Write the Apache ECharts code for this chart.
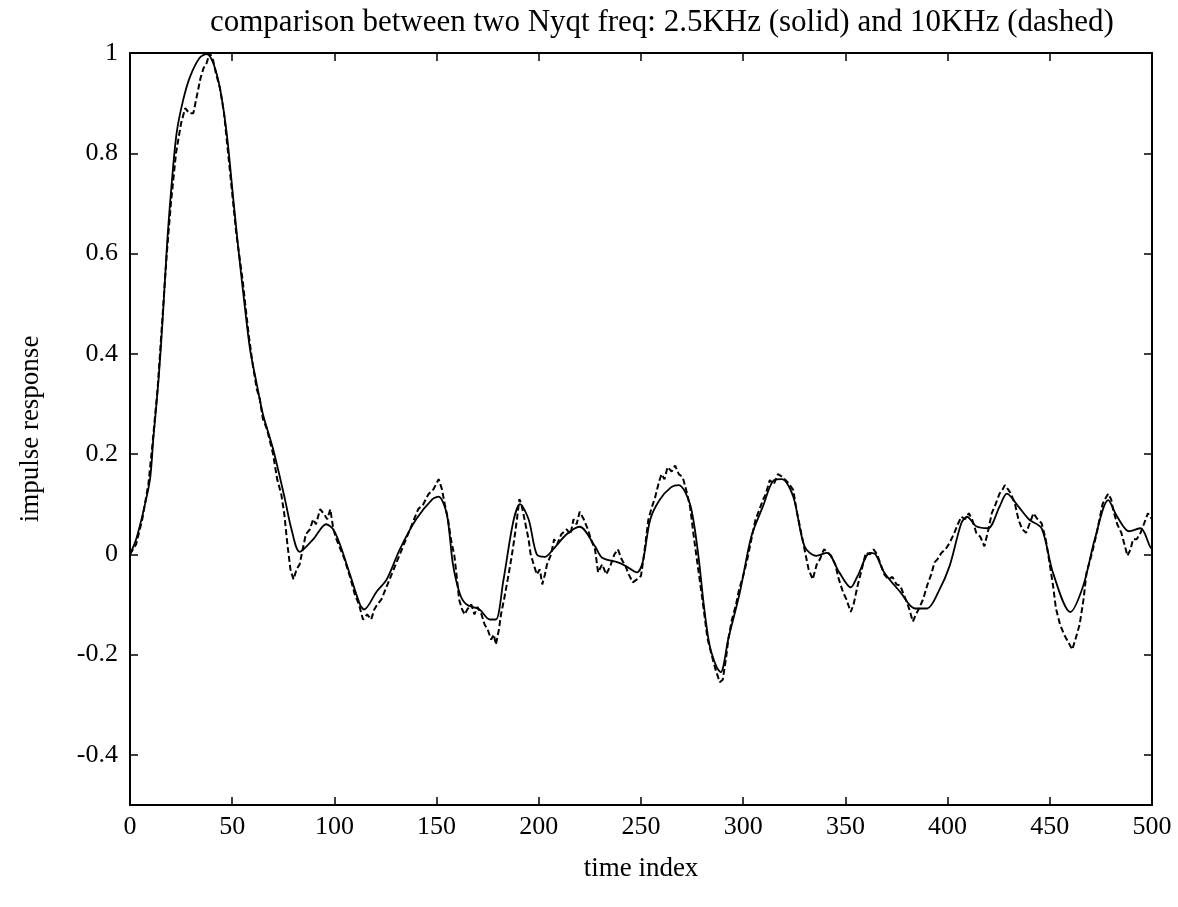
<!DOCTYPE html>
<html>
<head>
<meta charset="utf-8">
<script src="https://cdn.jsdelivr.net/npm/echarts@6/dist/echarts.min.js"></script>
<style>html,body{margin:0;padding:0;background:#fff;}#c{width:1178px;height:907px;}</style>
</head>
<body>
<div id="c"></div>
<script>
var titleText = 'comparison between two Nyqt freq: 2.5KHz (solid) and 10KHz (dashed)';
var xTicks = [0, 50, 100, 150, 200, 250, 300, 350, 400, 450, 500];
var yTicks = [-0.4, -0.2, 0, 0.2, 0.4, 0.6, 0.8, 1];

// solid: 2.5KHz
var solidT = [0,3,6.5,9.8,11.4,14,16,18,20,22.8,26,29.4,34,37.5,40.7,44,47.3,50.5,53,56,58.7,62,65,70,75.8,79,83,89.6,96,99.4,102.7,107.6,112.5,114.5,120.7,125.6,132,140,148,151,155,158,161.5,164.7,171,176,179,182.6,187.5,190.8,195,199,203,207,213.6,220,227.5,231,238.7,242.4,248,250.8,254.5,259,264.8,268.5,274,277.9,280.7,283.5,287,289,292.8,298.4,304,309.6,315,319,324.5,330,335.7,341,347,352.6,356,362,364.7,369,376.8,384,390,395.5,401,406.7,409.5,414,419.8,425.4,429,434.7,440,446,451.5,460,466.4,472,478.6,483,488.8,494.4,499,500];
var solidV = [0,0.03,0.085,0.15,0.23,0.35,0.47,0.61,0.72,0.84,0.906,0.953,0.99,0.998,0.98,0.93,0.84,0.71,0.61,0.5,0.41,0.34,0.28,0.21,0.11,0.05,0.005,0.03,0.06,0.05,0.02,-0.04,-0.1,-0.11,-0.074,-0.05,0.01,0.07,0.11,0.115,0.08,-0.02,-0.08,-0.1,-0.11,-0.13,-0.13,-0.054,0.065,0.1,0.07,0.0,-0.005,0.01,0.04,0.055,0.016,-0.007,-0.016,-0.023,-0.036,-0.016,0.069,0.108,0.134,0.138,0.10,0.003,-0.1,-0.18,-0.225,-0.235,-0.167,-0.075,0.036,0.095,0.148,0.15,0.115,0.016,-0.003,0.003,-0.036,-0.066,-0.043,0.003,0.0,-0.036,-0.075,-0.108,-0.108,-0.075,-0.023,0.062,0.075,0.056,0.052,0.095,0.121,0.095,0.069,0.052,-0.036,-0.115,-0.062,0.03,0.108,0.075,0.046,0.052,0.016,0.01];

// dashed: 10KHz
var dashT = [0,3,6,9,11,13.5,15.5,18,20,22.5,25,27,29,31,33,34.5,36,37.5,39,40.7,42,44,46,48,50,52,55,58,60,62,63.5,65,67,70,72,74,75.5,77,78.5,80,81.5,83,84.5,86,88,89.6,91,93,95,96.5,98,99.5,101,103,105,106.5,108,110,112,114,116,118,119.5,121,123,125,128,130,132,135,138,141,143.5,146,148.5,151,152.6,154,155.6,157,158.7,160,161,162.5,163.7,165,167,168.5,170,172,173.5,175,176.7,178,179,180.5,181.5,183,184.8,186.5,188,189.3,190.5,191.5,192,193.5,195,196,197.5,199,200.5,201.7,203,204,206,207.5,209,211,213.6,215.5,217,218.5,220,222,224,225.5,227.5,229,231,233,235,237,238.7,240.5,242.4,244,246,248,250,251.5,253.6,255,257,258.5,260,261.5,263,265,266.7,268.5,270.4,272,274,276,278,279.7,281,282.5,284.5,286.5,288.5,290,291.5,292.8,294.5,296.5,298,300,302,304,306,308,309.6,311,313,315,317,319,320.8,322.5,324.5,326,328,330,332,334,336,337.5,339.5,341,343,345,346.8,348.8,350.5,352.6,354,356,358,360,362,363.8,365.5,367.5,369,371,373,375,376.8,378.5,380.5,382,383,384.5,386,388,390,392,393.6,395,397,399,401,403,405,406.7,408.5,410.4,412,414,416,418,420,421.6,423.5,425.4,427,428,429.5,431,433,434.7,436.5,438.4,440,442,444,446,448,449.6,451.5,453,455,457,459,461,462.5,464.6,466.5,468,470.5,473,475.8,477,478.6,480,481,483,485,486.5,488,489.5,490.7,492.5,494.4,496,498,500];
var dashV = [0,0.02,0.07,0.14,0.22,0.33,0.45,0.6,0.7,0.8,0.86,0.89,0.88,0.88,0.92,0.95,0.97,0.98,1.0,0.985,0.96,0.93,0.88,0.8,0.72,0.64,0.55,0.44,0.38,0.33,0.31,0.27,0.25,0.2,0.15,0.12,0.08,0.02,-0.03,-0.05,-0.03,-0.02,0.01,0.04,0.05,0.07,0.06,0.09,0.08,0.07,0.09,0.05,0.03,0.01,-0.01,-0.03,-0.05,-0.08,-0.1,-0.13,-0.12,-0.13,-0.11,-0.1,-0.09,-0.07,-0.04,-0.02,0.0,0.03,0.06,0.09,0.1,0.12,0.13,0.15,0.13,0.1,0.07,0.03,-0.003,-0.05,-0.09,-0.11,-0.12,-0.11,-0.1,-0.12,-0.105,-0.12,-0.14,-0.15,-0.17,-0.16,-0.18,-0.15,-0.12,-0.09,-0.05,-0.01,0.03,0.07,0.11,0.1,0.09,0.06,0.03,0.0,-0.02,-0.04,-0.03,-0.06,-0.04,-0.02,0.0,0.03,0.02,0.04,0.05,0.04,0.07,0.06,0.085,0.07,0.05,0.03,0.01,-0.036,-0.02,-0.04,-0.023,0.0,0.01,-0.01,-0.023,-0.04,-0.056,-0.05,-0.043,0.0,0.069,0.09,0.115,0.14,0.16,0.15,0.174,0.165,0.177,0.16,0.154,0.13,0.095,0.03,-0.03,-0.08,-0.12,-0.167,-0.2,-0.23,-0.255,-0.25,-0.21,-0.167,-0.13,-0.1,-0.07,-0.043,-0.01,0.03,0.069,0.09,0.108,0.12,0.148,0.14,0.16,0.155,0.148,0.14,0.128,0.09,0.05,0.01,-0.03,-0.05,-0.02,-0.01,0.01,0.005,-0.003,-0.02,-0.05,-0.075,-0.09,-0.115,-0.1,-0.062,-0.03,0.003,0.0,0.01,0.0,-0.023,-0.04,-0.05,-0.045,-0.06,-0.062,-0.08,-0.1,-0.12,-0.134,-0.12,-0.108,-0.09,-0.062,-0.04,-0.016,-0.01,0.003,0.01,0.023,0.04,0.06,0.075,0.07,0.082,0.07,0.043,0.035,0.016,0.05,0.082,0.1,0.121,0.13,0.138,0.13,0.121,0.1,0.069,0.05,0.043,0.06,0.082,0.07,0.062,0.03,-0.01,-0.06,-0.108,-0.14,-0.16,-0.175,-0.19,-0.17,-0.14,-0.09,-0.036,0.0,0.043,0.1,0.11,0.121,0.11,0.089,0.06,0.043,0.02,-0.003,0.01,0.03,0.03,0.043,0.06,0.082,0.07];

function pairs(t, v) { var out = []; for (var i = 0; i < t.length; i++) out.push([t[i], v[i]]); return out; }

var FONT = 'Liberation Serif';
var chart = echarts.init(document.getElementById('c'), null, { renderer: 'canvas' });
var axisLineOpt = { show: true, onZero: false, lineStyle: { color: '#000', width: 2 } };
var tickIn = { show: true, inside: true, length: 8, lineStyle: { color: '#000', width: 1.5 } };

chart.setOption({
  backgroundColor: '#fff',
  animation: false,
  title: {
    text: titleText,
    left: 205, top: 2,
    textStyle: { fontFamily: FONT, fontSize: 31, fontWeight: 'normal', color: '#000' }
  },
  grid: { left: 130, right: 26, top: 53, bottom: 102, containLabel: false },
  xAxis: [{
    type: 'value', min: 0, max: 500, interval: 50, position: 'bottom',
    name: 'time index', nameLocation: 'middle', nameGap: 50,
    nameTextStyle: { fontFamily: FONT, fontSize: 27, color: '#000' },
    axisLine: axisLineOpt,
    axisTick: tickIn,
    axisLabel: { fontFamily: FONT, fontSize: 26, color: '#000', margin: 9,
      customValues: xTicks, formatter: function (v) { return String(v); } },
    splitLine: { show: false }
  }, {
    type: 'value', min: 0, max: 500, interval: 50, position: 'top',
    axisLine: axisLineOpt,
    axisTick: tickIn,
    axisLabel: { show: false },
    splitLine: { show: false }
  }],
  yAxis: [{
    type: 'value', min: -0.5, max: 1, interval: 0.1, position: 'left',
    name: 'impulse response', nameLocation: 'middle', nameGap: 86,
    nameTextStyle: { fontFamily: FONT, fontSize: 27, color: '#000' },
    axisLine: axisLineOpt,
    axisTick: Object.assign({}, tickIn, { customValues: yTicks }),
    axisLabel: { fontFamily: FONT, fontSize: 26, color: '#000', margin: 12,
      customValues: yTicks,
      formatter: function (v) { return String(Math.round(v * 10) / 10); } },
    splitLine: { show: false }
  }, {
    type: 'value', min: -0.5, max: 1, interval: 0.1, position: 'right',
    axisLine: axisLineOpt,
    axisTick: Object.assign({}, tickIn, { customValues: yTicks }),
    axisLabel: { show: false },
    splitLine: { show: false }
  }],
  series: [{
    name: '10KHz (dashed)', type: 'line', xAxisIndex: 0, yAxisIndex: 0,
    data: pairs(dashT, dashV), showSymbol: false, smooth: false,
    lineStyle: { color: '#000', width: 2, type: [6, 3] }
  }, {
    name: '2.5KHz (solid)', type: 'line', xAxisIndex: 0, yAxisIndex: 0,
    data: pairs(solidT, solidV), showSymbol: false, smooth: 0.3,
    lineStyle: { color: '#000', width: 1.8, type: 'solid' }
  }]
});
</script>
</body>
</html>
